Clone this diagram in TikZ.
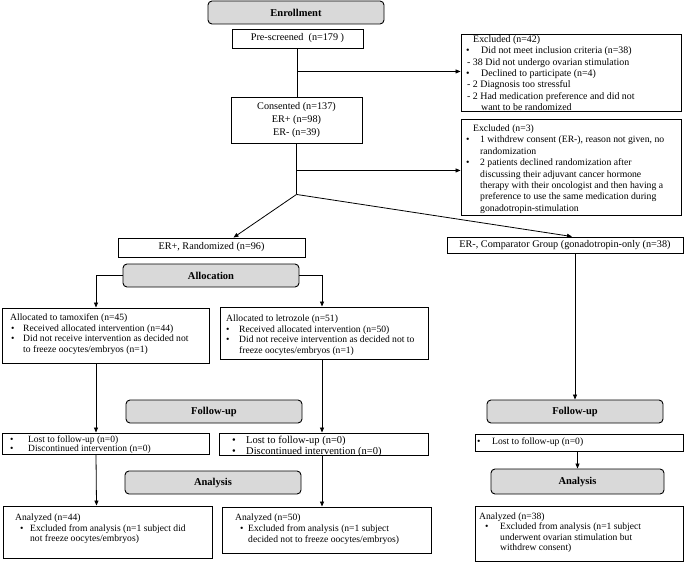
\documentclass[tikz,border=0pt]{standalone}
\usepackage{fontspec}
\setmainfont{Liberation Serif}
\usetikzlibrary{arrows.meta}
\newcommand\bu[2][0pt]{\makebox[#2][l]{\hspace*{#1}\textbullet}}
\newcommand\rbox[7][bx]{\node[#1, minimum width={(#5-#3)*1pt}, minimum height={(#6-#4)*1pt}] (#2) at ({(#3+#5)/2},{(#4+#6)/2}) {#7};}
\begin{document}
\begin{tikzpicture}[x=1pt,y=-1pt,
  bx/.style={draw, line width=0.9pt, inner sep=0pt, align=center, font=\fontsize{10.2}{12.8}\selectfont},
  gbox/.style={draw, line width=0.9pt, fill=black!15, rounded corners=4pt, inner sep=0pt, font=\fontsize{10.5}{12}\selectfont\bfseries},
  txt/.style={anchor=north west, inner sep=0pt, align=left, font=\fontsize{9.6}{11.2}\selectfont},
  ln/.style={line width=0.8pt},
  arr/.style={line width=0.8pt, -{Triangle[length=5pt,width=4pt]}}]
\useasboundingbox (0,0) rectangle (685,564);

% boxes
\rbox[gbox]{enr}{208}{1}{384}{24}{Enrollment}
\rbox{pre}{232}{29}{363}{48}{Pre-screened\ \ (n=179 )}
\rbox{ex1}{461}{34}{681}{111}{}
\rbox{cons}{231}{97}{362}{143}{Consented (n=137)\\ER+ (n=98)\\ER- (n=39)}
\rbox{ex2}{461}{119}{681}{215}{}
\rbox{erp}{118}{238}{305}{257}{ER+, Randomized (n=96)}
\rbox{erm}{447}{237}{683}{253}{ER-, Comparator Group (gonadotropin-only (n=38)}
\rbox[gbox]{alloc}{123}{264}{299}{287}{Allocation}
\rbox{tam}{2}{308}{209}{363}{}
\rbox{let}{220}{307}{428}{359}{}
\rbox[gbox]{fuL}{126}{400}{302}{423}{Follow-up}
\rbox{lostL}{2}{433}{209}{454}{}
\rbox{lostM}{219}{433}{428}{455}{}
\rbox[gbox]{anL}{125}{471}{301}{494}{Analysis}
\rbox{azL}{3}{506}{212}{558}{}
\rbox{azM}{222}{507}{431}{553}{}
\rbox[gbox]{fuR}{487}{400}{663}{423}{Follow-up}
\rbox{lostR}{475}{434}{683}{451}{}
\rbox[gbox]{anR}{491}{469}{664}{494}{Analysis}
\rbox{azR}{475}{506}{683}{561}{}

% texts
\node[txt, font=\fontsize{9.9}{11.3}\selectfont] (ex1t) at (466,35.5) {\hspace*{7pt}Excluded (n=42)\\
\bu{15pt}Did not meet inclusion criteria (n=38)\\
\hspace*{1pt}- 38 Did not undergo ovarian stimulation\\
\bu{15pt}Declined to participate (n=4)\\
\hspace*{1pt}- 2 Diagnosis too stressful\\
\hspace*{1pt}- 2 Had medication preference and did not\\
\hspace*{15pt}want to be randomized};
\node[txt, font=\fontsize{9.7}{11.4}\selectfont] (ex2t) at (466,124.5) {\hspace*{7pt}Excluded (n=3)\\
\bu{14pt}1 withdrew consent (ER-), reason not given, no\\
\hspace*{14pt}randomization\\
\bu{14pt}2 patients declined randomization after\\
\hspace*{14pt}discussing their adjuvant cancer hormone\\
\hspace*{14pt}therapy with their oncologist and then having a\\
\hspace*{14pt}preference to use the same medication during\\
\hspace*{14pt}gonadotropin-stimulation};
\node[txt, font=\fontsize{9.6}{10.7}\selectfont] (tamt) at (10,313.5) {Allocated to tamoxifen (n=45)\\
\bu[1pt]{13pt}Received allocated intervention (n=44)\\
\bu[1pt]{13pt}Did not receive intervention as decided not\\
\hspace*{13pt}to freeze oocytes/embryos (n=1)};
\node[txt, font=\fontsize{9.6}{10.7}\selectfont] (lett) at (226,314.5) {Allocated to letrozole (n=51)\\
\bu{13pt}Received allocated intervention (n=50)\\
\bu{13pt}Did not receive intervention as decided not to\\
\hspace*{13pt}freeze oocytes/embryos (n=1)};
\node[txt, font=\fontsize{9.5}{9}\selectfont] (lostLt) at (9,436) {\bu[1pt]{19pt}Lost to follow-up (n=0)\\
\bu[1pt]{19pt}Discontinued intervention (n=0)};
\node[txt, font=\fontsize{10.5}{11.5}\selectfont] (lostMt) at (231,435.5) {\bu[1pt]{15pt}Lost to follow-up (n=0)\\
\bu[1pt]{15pt}Discontinued intervention (n=0)};
\node[txt] (lostRt) at (477,437.5) {\bu{15pt}Lost to follow-up (n=0)};
\node[txt, font=\fontsize{9.6}{10.7}\selectfont] (azLt) at (15,513.5) {Analyzed (n=44)\\
\bu[5pt]{15pt}Excluded from analysis (n=1 subject did\\
\hspace*{15pt}not freeze oocytes/embryos)};
\node[txt, font=\fontsize{9.6}{10.7}\selectfont] (azMt) at (235,514) {Analyzed (n=50)\\
\bu[5pt]{13pt}Excluded from analysis (n=1 subject\\
\hspace*{13pt}decided not to freeze oocytes/embryos)};
\node[txt, font=\fontsize{9.6}{10.5}\selectfont] (azRt) at (479,512.5) {Analyzed (n=38)\\
\bu[6pt]{21pt}Excluded from analysis (n=1 subject\\
\hspace*{21pt}underwent ovarian stimulation but\\
\hspace*{21pt}withdrew consent)};

% connectors
\draw[ln] (pre.south) -- (pre.south |- cons.north);
\coordinate (b1) at ([yshift=-23pt]pre.south);
\draw[arr] (b1) -- (b1 -| ex1.west);
\coordinate (j) at ([yshift=-51pt]cons.south);
\coordinate (b2) at ([yshift=-27pt]cons.south);
\draw[ln] (cons.south) -- (j);
\draw[arr] (b2) -- (b2 -| ex2.west);
\draw[arr] (j) -- ([xshift=22pt]erp.north);
\draw[arr] (j) -- ([xshift=7pt]erm.north);
\draw[arr] (alloc.west) -| ([xshift=-9.5pt]tam.north);
\draw[arr] (alloc.east) -| ([xshift=-2pt]let.north);
\draw[arr] ([xshift=-9.5pt]tam.south) -- ([xshift=-9.5pt]lostL.north);
\draw[arr] ([xshift=-2pt]let.south) -- ([xshift=-1.5pt]lostM.north);
\draw[arr] ([xshift=-9.5pt]lostL.south) -- ([xshift=-11pt]azL.north);
\draw[arr] ([xshift=-1.5pt]lostM.south) -- ([xshift=-4.5pt]azM.north);
\draw[arr] (fuR.north |- erm.south) -- (fuR.north);
\draw[arr] (anR.north |- lostR.south) -- (anR.north);
\end{tikzpicture}
\end{document}
